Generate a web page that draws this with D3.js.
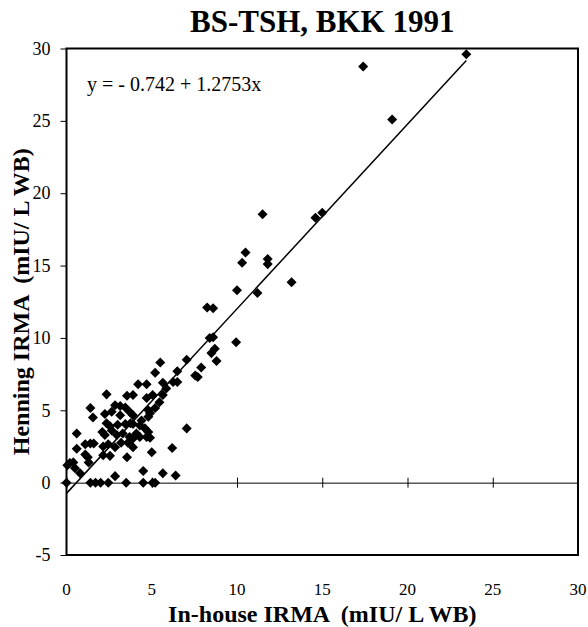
<!DOCTYPE html>
<html>
<head>
<meta charset="utf-8">
<script src="https://cdn.jsdelivr.net/npm/d3@7"></script>
<style>
  body { margin: 0; background: #fff; }
  svg text { font-family: "Liberation Serif", "Times New Roman", serif; fill: #000; white-space: pre; }
</style>
</head>
<body>
<div id="chart"></div>
<script>
(function(){
	// values
	var inHouse = [23.45, 17.4, 19.1, 11.5, 14.6, 15.0, 10.5, 10.3, 11.8, 11.8, 13.2, 10.0, 11.2, 8.25, 8.6,
		8.4, 8.6, 9.95, 8.7, 8.5, 8.8, 7.9, 7.05, 7.55, 7.7, 7.05, 5.5, 6.5, 5.2, 4.2, 4.7, 5.65, 6.25, 6.5,
		2.35, 3.55, 3.9, 4.7, 5.05, 5.65, 5.85, 5.45, 1.4, 1.55, 2.25, 2.65, 2.85, 3.15, 3.45, 3.15, 3.7, 3.9,
		4.8, 4.9, 5.2, 4.4, 4.8, 2.35, 2.55, 3.0, 3.45, 3.75, 3.9, 4.3, 4.6, 4.8, 4.1, 0.6, 2.1, 2.25, 2.65,
		2.95, 3.3, 3.7, 3.9, 4.3, 4.7, 4.9, 1.1, 1.4, 1.6, 0.6, 2.15, 2.45, 2.85, 3.2, 3.6, 3.9, 6.2, 5.0,
		1.1, 1.25, 2.15, 2.55, 3.55, 1.3, 0.05, 0.2, 0.4, 0.5, 0.8, 2.85, 4.5, 5.65, 6.4,
		0, 1.4, 1.7, 2.0, 2.45, 3.5, 4.5, 5.05, 5.2];
	var henning = [29.6, 28.75, 25.1, 18.55, 18.3, 18.65, 15.9, 15.2, 15.45, 15.1, 13.85, 13.3, 13.1, 12.1, 12.05,
		10.0, 10.05, 9.7, 9.25, 8.95, 8.4, 7.95, 8.5, 7.4, 7.3, 3.75, 8.3, 7.7, 7.6, 6.8, 6.8, 6.9, 6.95, 6.95,
		6.1, 6.0, 6.05, 5.85, 6.05, 6.05, 6.5, 5.55, 5.15, 4.5, 4.75, 4.9, 5.35, 5.3, 5.2, 4.65, 4.9, 4.65,
		5.0, 4.8, 5.15, 4.3, 4.55, 4.1, 3.9, 4.0, 4.05, 4.1, 4.05, 3.95, 3.75, 3.5, 3.4, 3.4, 3.5, 3.3, 3.6,
		3.3, 3.4, 3.15, 3.05, 3.15, 3.15, 3.1, 2.65, 2.7, 2.7, 2.35, 2.5, 2.65, 2.45, 2.75, 2.75, 2.45, 2.4, 2.1,
		1.95, 1.75, 1.9, 1.85, 1.75, 1.4, 1.2, 1.35, 1.4, 1.0, 0.65, 0.45, 0.8, 0.65, 0.5,
		0, 0, 0, 0, 0, 0, 0, 0, 0];
	var xTicks = [0, 5, 10, 15, 20, 25, 30];
	var yTicks = [-5, 0, 5, 10, 15, 20, 25, 30];
	var intercept = -0.742, slope = 1.2753;
	var fitRange = [0, 23.45];

	var width = 588, height = 627;
	var margin = {top: 48.5, right: 10, bottom: 72, left: 66.5};

	var x = d3.scaleLinear().domain([0, 30]).range([margin.left, width - margin.right]);
	var y = d3.scaleLinear().domain([-5, 30]).range([height - margin.bottom, margin.top]);

	// plain hyphen for negatives, as in the original
	var fmt = function(d){ return String(d); };

	var svg = d3.select("#chart").append("svg")
		.attr("width", width)
		.attr("height", height);

	// title
	svg.append("text")
		.attr("x", (x(0) + x(30)) / 2)
		.attr("y", 32)
		.attr("text-anchor", "middle")
		.style("font-size", "31px")
		.style("font-weight", "bold")
		.text("BS-TSH, BKK 1991");

	// y axis on the left, ticks outside
	var yAxis = svg.append("g")
		.attr("transform", "translate(" + x(0) + ",0)")
		.call(d3.axisLeft(y).tickValues(yTicks).tickFormat(fmt).tickSize(6).tickPadding(10));
	yAxis.select(".domain").remove();
	yAxis.selectAll("text")
		.attr("fill", "#000")
		.style("font-size", "18px")
		.style("font-family", "Liberation Serif");

	// x axis line at zero, ticks crossing
	var xAxis = svg.append("g")
		.attr("transform", "translate(0," + y(0) + ")")
		.call(d3.axisBottom(x).tickValues(xTicks).tickSizeInner(0).tickSizeOuter(0).tickFormat(""));
	xAxis.selectAll(".tick line").attr("y1", -5).attr("y2", 5);

	// x tick labels sit below the plot
	svg.append("g")
		.selectAll("text")
		.data(xTicks)
		.enter()
		.append("text")
		.attr("x", function(d){ return x(d); })
		.attr("y", 595)
		.attr("text-anchor", "middle")
		.style("font-size", "17px")
		.text(fmt);

	// frame
	svg.append("rect")
		.attr("x", x(0))
		.attr("y", y(30))
		.attr("width", x(30) - x(0))
		.attr("height", y(-5) - y(30))
		.attr("fill", "none")
		.attr("stroke", "#000")
		.attr("stroke-width", 2);

	// fitted line
	svg.append("line")
		.attr("x1", x(fitRange[0]))
		.attr("y1", y(intercept + slope * fitRange[0]))
		.attr("x2", x(fitRange[1]))
		.attr("y2", y(intercept + slope * fitRange[1]))
		.attr("stroke", "#000")
		.attr("stroke-width", 1.5);

	// points
	var diamond = d3.symbol().type(d3.symbolDiamond2).size(64);
	svg.append("g")
		.selectAll("path")
		.data(inHouse)
		.enter()
		.append("path")
		.attr("transform", function(d, i){ return "translate(" + x(d) + "," + y(henning[i]) + ")"; })
		.attr("d", diamond)
		.attr("fill", "#000");

	// equation
	svg.append("text")
		.attr("x", 87)
		.attr("y", 91)
		.style("font-size", "20px")
		.text("y = - 0.742 + 1.2753x");

	// axis titles
	svg.append("text")
		.attr("x", (x(0) + x(30)) / 2)
		.attr("y", 622)
		.attr("text-anchor", "middle")
		.style("font-size", "24px")
		.style("font-weight", "bold")
		.text("In-house IRMA  (mIU/ L WB)");

	svg.append("text")
		.attr("transform", "translate(29," + (y(30) + y(-5)) / 2 + ") rotate(-90)")
		.attr("text-anchor", "middle")
		.style("font-size", "24px")
		.style("font-weight", "bold")
		.text("Henning IRMA  (mIU/ L WB)");
})();
</script>
</body>
</html>
